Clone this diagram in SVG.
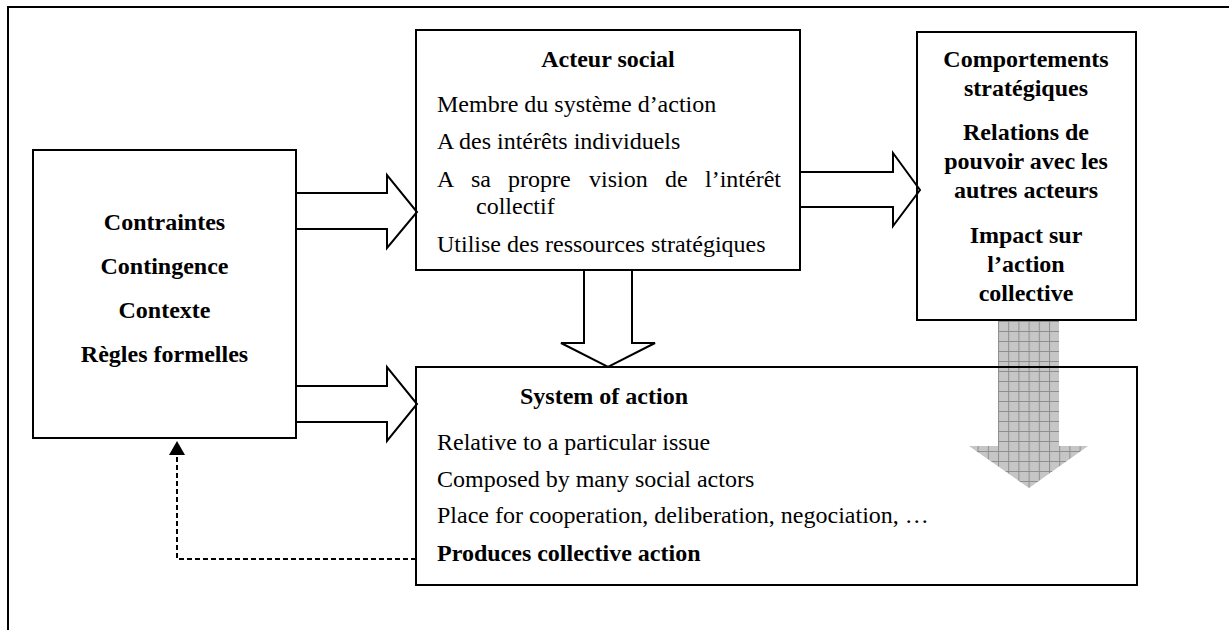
<svg xmlns="http://www.w3.org/2000/svg" width="1229" height="630" viewBox="0 0 1229 630">
<style>
.box{fill:none;stroke:#000;stroke-width:2}
.frame{fill:none;stroke:#000;stroke-width:2}
.hollow{fill:#fff;stroke:#000;stroke-width:2;stroke-linejoin:miter}
.t{font-family:"Liberation Serif","Times New Roman",serif;font-size:24px;fill:#000}
.b{font-weight:bold}
.c{text-anchor:middle}
.dash{fill:none;stroke:#000;stroke-width:2;stroke-dasharray:5,3}
</style>
<defs>
<pattern id="grid" patternUnits="userSpaceOnUse" x="998" y="321" width="10.2" height="10">
<rect width="10.2" height="10" fill="#c6c6c6"/>
<path d="M0 0.5H10.2M0.5 0V10" stroke="#8e8e8e" stroke-width="1"/>
</pattern>
<marker id="tri" markerUnits="userSpaceOnUse" markerWidth="15" markerHeight="16" refX="0" refY="8" orient="auto" viewBox="0 0 15 16" overflow="visible">
<path d="M0 0L14 8L0 16Z" fill="#000"/>
</marker>
</defs>
<path class="frame" d="M8 630V7H1229"/>
<g id="connectors">
<path class="hollow" d="M296 193H387V175L417 212L387 248V229H296"/>
<path class="hollow" d="M296 386H387V367L417 404L387 441V422H296"/>
<path class="hollow" d="M800 172H893V153L920 190L893 226V207H800"/>
<path class="hollow" d="M584 270V343H561L608 367L655 343H632V270"/>
<path d="M998 321H1059V446H1088L1029 488L969 446H998Z" fill="url(#grid)"/>
<path class="dash" d="M416 559H177V455" marker-end="url(#tri)"/>
</g>
<g id="contraintes">
<rect class="box" x="33" y="150" width="263" height="288"/>
<text class="t b c" x="164.5" y="230">Contraintes</text>
<text class="t b c" x="164.5" y="274">Contingence</text>
<text class="t b c" x="164.5" y="318">Contexte</text>
<text class="t b c" x="164.5" y="362">Règles formelles</text>
</g>
<g id="acteur">
<rect class="box" x="416" y="30" width="384" height="240"/>
<text class="t b c" x="608" y="67">Acteur social</text>
<text class="t" x="437" y="112">Membre du système d’action</text>
<text class="t" x="437" y="149">A des intérêts individuels</text>
<text class="t" y="187"><tspan x="437">A</tspan><tspan x="471">sa</tspan><tspan x="508">propre</tspan><tspan x="589">vision</tspan><tspan x="665">de</tspan><tspan x="705">l’intérêt</tspan></text>
<text class="t" x="476" y="214">collectif</text>
<text class="t" x="437" y="252">Utilise des ressources stratégiques</text>
</g>
<g id="comportements">
<rect class="box" x="917" y="32" width="219" height="288"/>
<text class="t b c" x="1026" y="67">Comportements</text>
<text class="t b c" x="1026" y="96">stratégiques</text>
<text class="t b c" x="1026" y="140">Relations de</text>
<text class="t b c" x="1026" y="169">pouvoir avec les</text>
<text class="t b c" x="1026" y="198">autres acteurs</text>
<text class="t b c" x="1026" y="243">Impact sur</text>
<text class="t b c" x="1026" y="272">l’action</text>
<text class="t b c" x="1026" y="301">collective</text>
</g>
<g id="system">
<rect class="box" x="416" y="367" width="721" height="218"/>
<text class="t b" x="520" y="404">System of action</text>
<text class="t" x="437" y="450">Relative to a particular issue</text>
<text class="t" x="437" y="487">Composed by many social actors</text>
<text class="t" x="437" y="523">Place for cooperation, deliberation, negociation, …</text>
<text class="t b" x="437" y="561">Produces collective action</text>
</g>
</svg>
